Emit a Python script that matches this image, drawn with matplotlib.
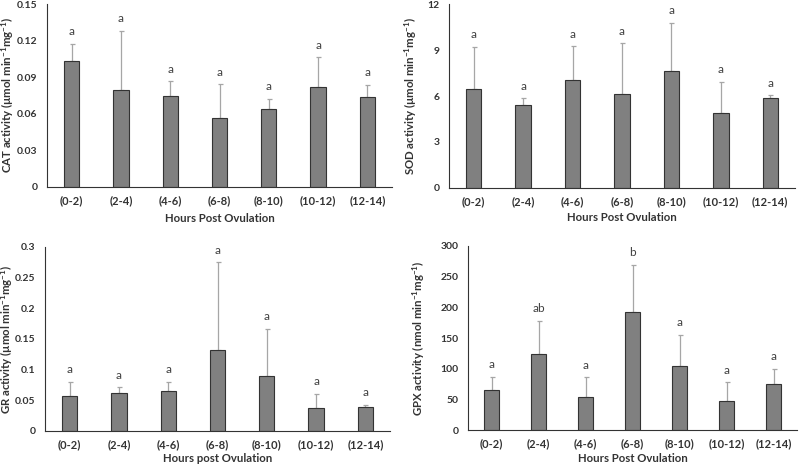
import matplotlib.pyplot as plt
import numpy as np

plt.rcParams['font.family'] = ['Lato', 'DejaVu Sans']
plt.rcParams['mathtext.default'] = 'regular'

categories = ['(0-2)', '(2-4)', '(4-6)', '(6-8)', '(8-10)', '(10-12)', '(12-14)']

cat_mean = [0.1036, 0.0791, 0.0750, 0.0567, 0.0638, 0.0818, 0.0739]
cat_err = [0.0139, 0.0489, 0.0117, 0.0276, 0.0087, 0.0248, 0.0098]
cat_letters = ['a'] * 7

sod_mean = [6.46, 5.43, 7.07, 6.13, 7.63, 4.87, 5.85]
sod_err = [2.76, 0.42, 2.19, 3.33, 3.15, 2.06, 0.19]
sod_letters = ['a'] * 7

gr_mean = [0.0575, 0.0613, 0.0651, 0.1323, 0.0889, 0.0374, 0.0396]
gr_err = [0.0228, 0.0097, 0.0152, 0.1432, 0.0776, 0.0233, 0.0032]
gr_letters = ['a'] * 7

gpx_mean = [65.1, 124.7, 54.2, 193.0, 103.6, 46.6, 74.3]
gpx_err = [21.7, 53.2, 31.5, 76.5, 52.0, 30.9, 25.5]
gpx_letters = ['a', 'ab', 'a', 'b', 'a', 'a', 'a']

# axes box in pixels (left, top, right, bottom), label centres in pixels
panels = [
    dict(px=(47, 4, 392, 187), ylab_x=8, xlab_y=218, mean=cat_mean, err=cat_err, letters=cat_letters,
         ylim=0.15, ticks=[0, 0.03, 0.06, 0.09, 0.12, 0.15],
         ticklabels=['0', '0.03', '0.06', '0.09', '0.12', '0.15'],
         ylabel='CAT activity (µmol min$^{-1}$mg$^{-1}$)',
         xlabel='Hours Post Ovulation'),
    dict(px=(449, 4, 795, 188), ylab_x=411, xlab_y=218, mean=sod_mean, err=sod_err, letters=sod_letters,
         ylim=12, ticks=[0, 3, 6, 9, 12],
         ticklabels=['0', '3', '6', '9', '12'],
         ylabel='SOD activity (µmol min$^{-1}$mg$^{-1}$)',
         xlabel='Hours Post Ovulation'),
    dict(px=(45, 247, 390, 431), ylab_x=7, xlab_y=459, mean=gr_mean, err=gr_err, letters=gr_letters,
         ylim=0.3, ticks=[0, 0.05, 0.1, 0.15, 0.2, 0.25, 0.3],
         ticklabels=['0', '0.05', '0.1', '0.15', '0.2', '0.25', '0.3'],
         ylabel='GR activity (µmol min$^{-1}$mg$^{-1}$)',
         xlabel='Hours post Ovulation'),
    dict(px=(468, 246, 797, 430), ylab_x=419, xlab_y=459, mean=gpx_mean, err=gpx_err, letters=gpx_letters,
         ylim=300, ticks=[0, 50, 100, 150, 200, 250, 300],
         ticklabels=['0', '50', '100', '150', '200', '250', '300'],
         ylabel='GPX activity (nmol min$^{-1}$mg$^{-1}$)',
         xlabel='Hours Post Ovulation'),
]

W, H = 800, 467
fig = plt.figure(figsize=(W / 100, H / 100), dpi=100)
x = np.arange(len(categories))

for p in panels:
    l, t, r, b = p['px']
    ax = fig.add_axes([l / W, 1 - b / H, (r - l) / W, (b - t) / H])
    ax.bar(x, p['mean'], width=0.31, color='#808080', edgecolor='#333333', linewidth=0.8, zorder=2)
    ax.errorbar(x, p['mean'], yerr=[np.zeros(len(x)), p['err']], fmt='none',
                ecolor='#a6a6a6', elinewidth=0.9, capsize=1.8, capthick=0.9, zorder=1)
    off = p['ylim'] * 0.035
    for xi, m, e, lab in zip(x, p['mean'], p['err'], p['letters']):
        ax.text(xi, m + e + off, lab, ha='center', va='bottom', fontsize=8.5, color='#404040')
    ax.set_xlim(-0.5, len(categories) - 0.5)
    ax.set_ylim(0, p['ylim'])
    ax.set_yticks(p['ticks'])
    ax.set_yticklabels(p['ticklabels'])
    ax.set_xticks(x)
    ax.set_xticklabels(categories)
    ax.tick_params(length=0, labelcolor='#333333')
    ax.tick_params(axis='x', pad=6, labelsize=8)
    ax.tick_params(axis='y', pad=7, labelsize=7.5)
    for lbl in ax.get_xticklabels() + ax.get_yticklabels():
        lbl.set_fontweight('bold')
    for s in ['top', 'right']:
        ax.spines[s].set_visible(False)
    for s in ['left', 'bottom']:
        ax.spines[s].set_color('#333333')
        ax.spines[s].set_linewidth(0.8)
    ax.set_xlabel(p['xlabel'], fontsize=8.2, fontweight='bold', color='#333333')
    ax.xaxis.label.set_va('center')
    ax.xaxis.set_label_coords(0.5, (b - p['xlab_y']) / (b - t))
    ax.set_ylabel(p['ylabel'], fontsize=8.2, fontweight='bold', color='#333333')
    ax.yaxis.label.set_va('center')
    ax.yaxis.set_label_coords((p['ylab_x'] - l) / (r - l), 0.5)

fig.savefig('out.png', dpi=100)
